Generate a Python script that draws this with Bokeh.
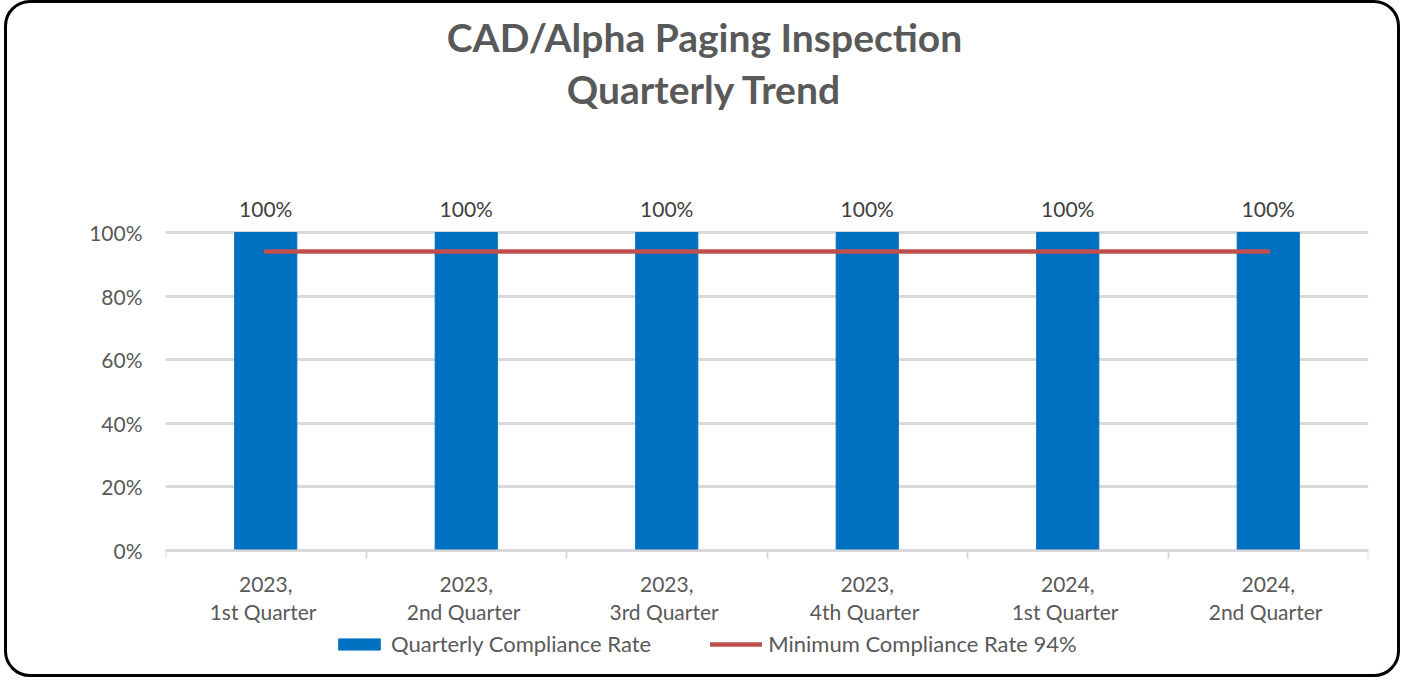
from bokeh.plotting import figure
from bokeh.models import (Range1d, FixedTicker, Legend, LegendItem, LabelSet, Label,
                          ColumnDataSource, NumeralTickFormatter)
from bokeh.core.properties import value
from bokeh.embed import file_html
from bokeh.resources import INLINE

categories = ["2023,\n1st  Quarter", "2023,\n2nd  Quarter", "2023,\n3rd  Quarter",
              "2023,\n4th  Quarter", "2024,\n1st  Quarter", "2024,\n2nd  Quarter"]
compliance = [1.00, 1.00, 1.00, 1.00, 1.00, 1.00]
minimum = [0.94, 0.94, 0.94, 0.94, 0.94, 0.94]
y_ticks = [0.0, 0.2, 0.4, 0.6, 0.8, 1.0]
title_lines = ["CAD/Alpha Paging Inspection", "Quarterly Trend"]

FONT = "Lato"
TXT = "#595959"
GRID = "#D9D9D9"

# frame covers the whole chart box; the x axis is pinned at y = 0
PX_PER_UNIT = 318.0
y_top = 1.0 + 224 / PX_PER_UNIT
y_bottom = -125 / PX_PER_UNIT

xs = [i + 0.5 for i in range(len(categories))]
src = ColumnDataSource(dict(x=xs, top=compliance, mn=minimum,
                            lab=[f"{v*100:.0f}%" for v in compliance]))

p = figure(width=1396, height=677, output_backend="svg", toolbar_location=None,
           x_range=Range1d(0, len(categories)), y_range=Range1d(y_bottom, y_top),
           min_border_left=158, min_border_right=35, min_border_top=5,
           min_border_bottom=5, tools="", title=None)
p.styles = {"border": "3px solid black", "border-radius": "26px", "margin-left": "4px"}

p.outline_line_color = None
p.background_fill_color = None
p.border_fill_color = None

for txt, sy in zip(title_lines, [639, 587]):
    p.add_layout(Label(x=539, y=sy, x_units="screen", y_units="screen", text=txt,
                       text_align="center", text_baseline="middle", text_font=FONT,
                       text_font_size="39px", text_font_style="bold", text_color=TXT))

bars = p.vbar(x="x", top="top", width=0.31, source=src, color="#0070C0")
line = p.line(x="x", y="mn", source=src, line_color="#C0504D", line_width=4.5,
              line_cap="round")

labels = LabelSet(x="x", y="top", text="lab", source=src, text_align="center",
                  text_baseline="bottom", y_offset=12, text_font=value(FONT),
                  text_font_size="21px", text_color="#404040")
p.add_layout(labels)

# y axis
p.yaxis.ticker = FixedTicker(ticks=y_ticks)
p.yaxis.formatter = NumeralTickFormatter(format="0%")
p.yaxis.axis_line_color = None
p.yaxis.major_tick_line_color = None
p.yaxis.minor_tick_line_color = None
p.yaxis.major_label_standoff = 17
p.yaxis.major_label_text_font = FONT
p.yaxis.major_label_text_font_size = "21px"
p.yaxis.major_label_text_color = TXT

p.ygrid.ticker = FixedTicker(ticks=y_ticks)
p.ygrid.grid_line_color = GRID
p.ygrid.grid_line_width = 3
p.xgrid.grid_line_color = None

# x axis, pinned at y = 0
p.xaxis.fixed_location = 0
p.xaxis.ticker = FixedTicker(ticks=xs, minor_ticks=list(range(len(categories) + 1)))
p.xaxis.major_label_overrides = {x: c for x, c in zip(xs, categories)}
p.xaxis.axis_line_color = GRID
p.xaxis.axis_line_width = 2
p.xaxis.major_tick_line_color = None
p.xaxis.minor_tick_line_color = GRID
p.xaxis.minor_tick_line_width = 2
p.xaxis.minor_tick_out = 8
p.xaxis.minor_tick_in = 0
p.xaxis.major_label_standoff = 12
p.xaxis.major_label_text_font = FONT
p.xaxis.major_label_text_font_size = "21px"
p.xaxis.major_label_text_color = TXT
p.xaxis.major_label_text_line_height = 1.12

legend = Legend(items=[LegendItem(label="Quarterly Compliance Rate", renderers=[bars]),
                       LegendItem(label="Minimum Compliance Rate 94%", renderers=[line])],
                orientation="horizontal", location=(168, 18),
                glyph_width=52, glyph_height=14, label_standoff=6, spacing=59,
                padding=0, margin=0, border_line_color=None,
                background_fill_alpha=0, label_text_font=FONT,
                label_text_font_size="22px", label_text_color=TXT)
p.add_layout(legend)

open("out.html", "w").write(file_html(p, INLINE))
